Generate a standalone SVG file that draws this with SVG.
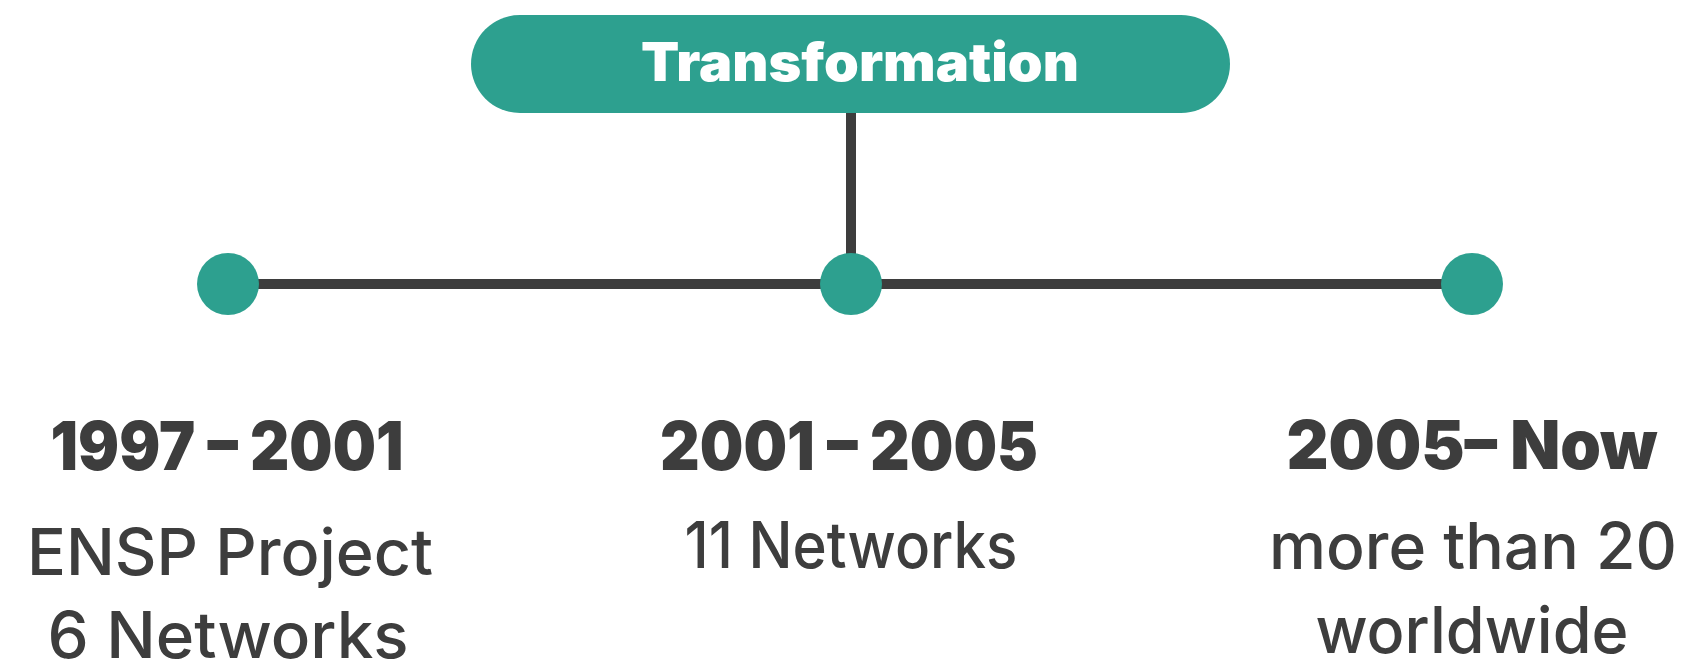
<svg xmlns="http://www.w3.org/2000/svg" width="1687" height="669" viewBox="0 0 1687 669">
  <style>
    .teal { fill: #2DA08F; }
    .conn { stroke: #3D3D3D; stroke-width: 10; fill: none; }
    .title { font-family: Inter, "Open Sans", sans-serif; font-weight: 900; font-size: 53px; fill: #FFFFFF; text-anchor: middle; }
    .year { font-family: Inter, "Open Sans", sans-serif; font-weight: 900; font-size: 68px; fill: #3D3D3D; text-anchor: middle; }
    .desc { font-family: Inter, "Open Sans", sans-serif; font-weight: 500; font-size: 64px; fill: #3D3D3D; text-anchor: middle; }
  </style>
  <rect width="1687" height="669" fill="#FFFFFF"/>
  <g id="connectors">
    <line class="conn" x1="851" y1="110" x2="851" y2="284"/>
    <line class="conn" x1="228" y1="284" x2="1472" y2="284"/>
  </g>
  <g id="transformation">
    <rect class="teal" x="471" y="15" width="759" height="98" rx="49" ry="49"/>
    <text class="title" x="860" y="81" textLength="438" lengthAdjust="spacingAndGlyphs">Transformation</text>
  </g>
  <g id="dot1"><circle class="teal" cx="228" cy="284" r="31"/></g>
  <g id="dot2"><circle class="teal" cx="851" cy="284" r="31"/></g>
  <g id="dot3"><circle class="teal" cx="1472" cy="284" r="31"/></g>
  <g id="period1">
    <text class="year" x="227" y="470" textLength="353" lengthAdjust="spacingAndGlyphs">1997 – 2001</text>
    <text class="desc" x="230" y="575" textLength="406" lengthAdjust="spacingAndGlyphs">ENSP Project</text>
    <text class="desc" x="228" y="658" textLength="361" lengthAdjust="spacingAndGlyphs">6 Networks</text>
  </g>
  <g id="period2">
    <text class="year" x="849" y="470" textLength="378" lengthAdjust="spacingAndGlyphs">2001 – 2005</text>
    <text class="desc" x="851" y="568" textLength="333" lengthAdjust="spacingAndGlyphs">11 Networks</text>
  </g>
  <g id="period3">
    <text class="year" x="1472" y="469" textLength="371" lengthAdjust="spacingAndGlyphs">2005– Now</text>
    <text class="desc" x="1473" y="569" textLength="408" lengthAdjust="spacingAndGlyphs">more than 20</text>
    <text class="desc" x="1472" y="653" textLength="313" lengthAdjust="spacingAndGlyphs">worldwide</text>
  </g>
</svg>
